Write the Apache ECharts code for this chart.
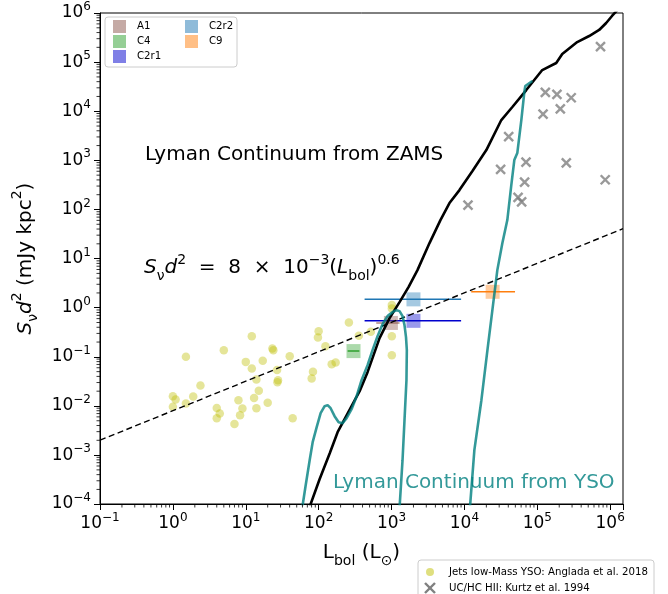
<!DOCTYPE html>
<html>
<head>
<meta charset="utf-8">
<script src="https://cdn.jsdelivr.net/npm/echarts@6.0.0/dist/echarts.min.js"></script>
<style>
  html, body { margin: 0; padding: 0; background: #fff; }
  #chart { width: 668px; height: 594px; }
</style>
</head>
<body>
<div id="chart"></div>
<script>
// ---- axis ranges (log-log) ----
const X_MIN = 0.1, X_MAX = 1.5e6;
const Y_MIN = 1.01e-4, Y_MAX = 1e6;
const xTickExps = [-1, 0, 1, 2, 3, 4, 5, 6];
const yTickExps = [-4, -3, -2, -1, 0, 1, 2, 3, 4, 5, 6];

// ---- jets from low-mass YSOs (Anglada et al. 2018) ----
const angladaL = [1.51, 5.0, 12.1, 10.0, 12.1, 17.1, 23.2, 23.9, 40.1, 26.9, 14.0, 27.7, 27.2, 15.1, 13.0,
  7.94, 20.0, 9.0, 14.0, 8.35, 7.0, 4.0, 4.4, 4.0, 44.0, 2.39, 1.90, 1.51, 1.0, 1.09, 1.0,
  100, 97.8, 124, 260, 356, 520, 83.6, 80.2, 151, 171, 1010, 1010, 1010, 1010];
const angladaS = [0.100, 0.137, 0.264, 0.079, 0.058, 0.083, 0.148, 0.137, 0.103, 0.054, 0.0347, 0.0335, 0.0305, 0.0203, 0.0146,
  0.0131, 0.0116, 0.0089, 0.0090, 0.0065, 0.0043, 0.0091, 0.0070, 0.0056, 0.0056, 0.0261, 0.0156, 0.0112, 0.0158, 0.0136, 0.0096,
  0.333, 0.248, 0.165, 0.502, 0.268, 0.323, 0.0495, 0.0363, 0.071, 0.077, 1.13, 0.97, 0.264, 0.108];

// ---- UC/HC HII regions (Kurtz et al. 1994) ----
const kurtzL = [7.37e5, 1.29e5, 1.86e5, 2.92e5, 1.20e5, 2.07e5, 4.05e4, 7.0e4, 3.14e4, 2.5e5, 6.7e4, 8.55e5, 5.45e4, 6.1e4, 1.12e4];
const kurtzS = [2.06e5, 2.43e4, 2.21e4, 1.88e4, 8.77e3, 1.12e4, 3.03e3, 923, 656, 893, 361, 403, 176, 143, 123];

// ---- sources of this work: luminosity range and radio luminosity ----
const sourceNames = ['A1', 'C4', 'C2r1', 'C2r2', 'C9'];
const sourceL    = [980, 301, 2000, 2000, 2.44e4];
const sourceS    = [0.49, 0.131, 0.541, 1.48, 2.11];
const sourceLmin = [617, 250, 427, 427, 1.24e4];
const sourceLmax = [1288, 362, 9010, 9010, 4.95e4];

// ---- Lyman continuum from ZAMS stars ----
const zamsL = [68.5, 103, 142, 182, 227, 283, 365, 469, 685, 940, 1288, 1710, 2270, 3320, 4690, 6240, 8550,
  1.29e4, 2.0e4, 3.21e4, 4.55e4, 7.06e4, 1.17e5, 1.82e5, 2.20e5, 3.53e5, 5.15e5, 7.06e5, 8.81e5, 1.06e6, 1.33e6];
const zamsS = [6e-5, 3.23e-4, 1.09e-3, 2.92e-3, 5.38e-3, 9.9e-3, 0.020, 0.0488, 0.240, 0.614, 1.30, 2.63, 5.83, 20.7, 60.8, 135, 248,
  605, 1620, 6620, 1.22e4, 2.70e4, 6.9e4, 9.6e4, 1.46e5, 2.56e5, 3.40e5, 4.51e5, 6.25e5, 8.69e5, 1.26e6];

// ---- Lyman continuum from accreting YSOs (two branches) ----
const ysoAL = [57.5, 66.4, 75.3, 82.8, 94.0, 106.5, 120.8, 132.8, 146, 165.5, 188, 213, 242, 283, 332, 388,
  469, 549, 643, 753, 881, 1033, 1170, 1288, 1416, 1507, 1580, 1622, 1603, 1507, 1416, 1270];
const ysoAS = [6e-5, 2.44e-4, 7.87e-4, 1.83e-3, 3.70e-3, 7.13e-3, 9.9e-3, 0.0104, 9.0e-3, 6.2e-3, 4.68e-3, 4.47e-3, 5.65e-3, 8.6e-3, 0.0158, 0.0335,
  0.0678, 0.137, 0.264, 0.463, 0.675, 0.813, 0.893, 0.853, 0.675, 0.442, 0.252, 0.137, 0.0335, 5.14e-3, 7.87e-4, 6e-5];
const ysoBL = [1.17e4, 1.37e4, 1.71e4, 2.07e4, 2.42e4, 2.83e4, 3.32e4, 3.88e4, 4.40e4, 4.84e4, 5.32e4, 6.04e4, 6.64e4, 6.85e4, 8.55e4];
const ysoBS = [6e-5, 1.26e-3, 0.0131, 0.137, 0.893, 5.83, 20.7, 60.8, 314, 1014, 1409, 6620, 2.46e4, 3.26e4, 4.12e4];

// ---- empirical jet relation  S d^2 = 8e-3 L^0.6 ----
const JET_COEF = 8e-3, JET_INDEX = 0.6;
const jetL = [X_MIN, X_MAX];

// ---- styling ----
const FONT = '"DejaVu Sans", sans-serif';
const TEAL = 'rgba(0,128,128,0.8)';
const sourceBase = ['140,86,75', '44,160,44', '0,0,205', '31,119,180', '255,127,14'];
const sourceLineColors = ['rgba(140,86,75,0.7)', '#2ca02c', '#0000cd', '#1f77b4', '#ff7f0e'];

const zip = (a, b) => a.map((v, i) => [v, b[i]]);

function powerLabel(exps) {
  return function (v) {
    const lg = Math.log10(v);
    const e = Math.round(lg);
    if (Math.abs(lg - e) > 0.01 || exps.indexOf(e) < 0) return '';
    const s = e < 0 ? '\u2212' + (-e) : String(e);
    return '{b|10}{s|' + s + '}';
  };
}
const tickRich = {
  b: { fontFamily: FONT, fontSize: 17, lineHeight: 24, color: '#000' },
  s: { fontFamily: FONT, fontSize: 12, lineHeight: 14, verticalAlign: 'top', color: '#000' }
};
const mathRich = {
  n:   { fontFamily: FONT, fontSize: 20, lineHeight: 30, color: '#000' },
  it:  { fontFamily: FONT, fontSize: 20, lineHeight: 30, fontStyle: 'italic', color: '#000' },
  sub: { fontFamily: FONT, fontSize: 14, lineHeight: 16, verticalAlign: 'bottom', color: '#000' },
  sup: { fontFamily: FONT, fontSize: 14, lineHeight: 18, verticalAlign: 'top', color: '#000' }
};

// minor log ticks at 2..9 x 10^k, drawn outward from the axis lines
const xMinor = [], yMinor = [];
for (let k = -1; k <= 5; k++) for (let m = 2; m <= 9; m++) xMinor.push(m * Math.pow(10, k));
for (let k = -4; k <= 5; k++) for (let m = 2; m <= 9; m++) yMinor.push(m * Math.pow(10, k));
function minorTicks(values, dir) {
  return {
    type: 'custom', silent: true, clip: false, z: 6,
    data: values.map(v => dir === 'x' ? [v, Y_MIN] : [X_MIN, v]),
    renderItem: function (params, api) {
      const p = api.coord([api.value(0), api.value(1)]);
      const len = 3.5;
      return {
        type: 'line',
        shape: dir === 'x' ? { x1: p[0], y1: p[1], x2: p[0], y2: p[1] + len }
                           : { x1: p[0] - len, y1: p[1], x2: p[0], y2: p[1] },
        style: { stroke: '#000', lineWidth: 0.8 }
      };
    }
  };
}

const series = [];
series.push({
  type: 'scatter', name: 'Jets low-Mass YSO: Anglada et al. 2018',
  data: zip(angladaL, angladaS), symbol: 'circle', symbolSize: 8.5,
  itemStyle: { color: 'rgba(191,191,0,0.5)' }, z: 2
});
series.push({
  type: 'scatter', name: 'UC/HC HII: Kurtz et al. 1994',
  data: zip(kurtzL, kurtzS), symbol: 'path://M0,0L10,10M10,0L0,10', symbolSize: 9,
  itemStyle: { color: 'rgba(0,0,0,0)', borderColor: '#808080', borderWidth: 2.4 }, z: 2
});
sourceNames.forEach((nm, i) => {
  series.push({
    type: 'line', name: nm + ' range', data: [[sourceLmin[i], sourceS[i]], [sourceLmax[i], sourceS[i]]],
    showSymbol: false, lineStyle: { color: sourceLineColors[i], width: 1.5 }, z: 3
  });
  series.push({
    type: 'scatter', name: nm, data: [[sourceL[i], sourceS[i]]], symbol: 'rect', symbolSize: 14,
    itemStyle: { color: 'rgba(' + sourceBase[i] + ',0.5)' }, z: 3
  });
});
series.push({
  type: 'line', name: 'jet relation', data: jetL.map(L => [L, JET_COEF * Math.pow(L, JET_INDEX)]),
  showSymbol: false, lineStyle: { color: '#000', width: 1.4, type: [6, 3.5] }, z: 4
});
series.push({
  type: 'line', name: 'ZAMS', data: zip(zamsL, zamsS), showSymbol: false,
  lineStyle: { color: '#000', width: 2.6 }, z: 5
});
series.push({
  type: 'line', name: 'YSO a', data: zip(ysoAL, ysoAS), showSymbol: false,
  lineStyle: { color: TEAL, width: 2.6 }, z: 5
});
series.push({
  type: 'line', name: 'YSO b', data: zip(ysoBL, ysoBS), showSymbol: false,
  lineStyle: { color: TEAL, width: 2.6 }, z: 5
});
series.push(minorTicks(xMinor, 'x'));
series.push(minorTicks(yMinor, 'y'));

// legend of this work's sources (two columns)
const LEGEND_FONT = '10.2px ' + FONT;
const legendCells = [[113, 26.5], [113, 41.5], [113, 56.5], [185, 26.5], [185, 41.5]];
const graphics = [{
  type: 'rect', z: 20, shape: { x: 105, y: 17, width: 132, height: 50, r: 3 },
  style: { fill: 'rgba(255,255,255,0.8)', stroke: '#cccccc', lineWidth: 1 }
}];
sourceNames.forEach((nm, i) => {
  const c = legendCells[i];
  graphics.push({ type: 'rect', z: 21, shape: { x: c[0], y: c[1] - 6.5, width: 13, height: 13 },
    style: { fill: 'rgba(' + sourceBase[i] + ',0.5)' } });
  graphics.push({ type: 'text', z: 21, x: c[0] + 24, y: c[1],
    style: { text: nm, font: LEGEND_FONT, fill: '#000', verticalAlign: 'middle' } });
});
// legend of the literature samples
graphics.push({ type: 'rect', z: 20, shape: { x: 418, y: 560, width: 236, height: 40, r: 3 },
  style: { fill: 'rgba(255,255,255,0.8)', stroke: '#cccccc', lineWidth: 1 } });
graphics.push({ type: 'circle', z: 21, shape: { cx: 430, cy: 572, r: 4 }, style: { fill: 'rgba(191,191,0,0.5)' } });
graphics.push({ type: 'polyline', z: 21, shape: { points: [[425, 583], [435, 593]] }, style: { stroke: '#808080', lineWidth: 2.4 } });
graphics.push({ type: 'polyline', z: 21, shape: { points: [[435, 583], [425, 593]] }, style: { stroke: '#808080', lineWidth: 2.4 } });
graphics.push({ type: 'text', z: 21, x: 449, y: 572,
  style: { text: 'Jets low-Mass YSO: Anglada et al. 2018', font: LEGEND_FONT, fill: '#000', verticalAlign: 'middle' } });
graphics.push({ type: 'text', z: 21, x: 449, y: 588,
  style: { text: 'UC/HC HII: Kurtz et al. 1994', font: LEGEND_FONT, fill: '#000', verticalAlign: 'middle' } });
// annotations
graphics.push({ type: 'text', z: 21, x: 145, y: 155,
  style: { text: 'Lyman Continuum from ZAMS', font: '20px ' + FONT, fill: '#000', verticalAlign: 'middle' } });
graphics.push({ type: 'text', z: 21, x: 333, y: 483,
  style: { text: 'Lyman Continuum from YSO', font: '20px ' + FONT, fill: TEAL, verticalAlign: 'middle' } });
graphics.push({ type: 'text', z: 21, x: 144, y: 268,
  style: {
    text: '{it|S}{sub|\u03bd}{it|d}{sup|2}{n|  =  8  \u00d7  10}{sup|\u22123}{n|(}{it|L}{sub|bol}{n|)}{sup|0.6}',
    rich: mathRich, font: '20px ' + FONT, verticalAlign: 'middle'
  } });

const chart = echarts.init(document.getElementById('chart'), null, { renderer: 'canvas' });
chart.setOption({
  animation: false,
  backgroundColor: '#fff',
  textStyle: { fontFamily: FONT },
  grid: { left: 100, right: 45, top: 13, bottom: 90, containLabel: false, outerBoundsMode: 'none',
    show: true, borderColor: '#000', borderWidth: 1, backgroundColor: 'transparent' },
  xAxis: {
    type: 'log', logBase: 10, min: X_MIN, max: X_MAX, splitNumber: 7,
    axisLine: { show: true, onZero: false, lineStyle: { color: '#000', width: 1 } },
    axisTick: { show: true, inside: false, length: 6, lineStyle: { color: '#000', width: 1 } },
    minorTick: { show: false }, splitLine: { show: false }, minorSplitLine: { show: false },
    axisLabel: { formatter: powerLabel(xTickExps), rich: tickRich, margin: 8, hideOverlap: false },
    name: '{n|L}{sub|bol}{n| (L}{sub|\u2299}{n|)}', nameLocation: 'middle', nameGap: 34,
    nameTextStyle: { rich: mathRich, fontSize: 20, color: '#000' }
  },
  yAxis: {
    type: 'log', logBase: 10, min: Y_MIN, max: Y_MAX, splitNumber: 10,
    axisLine: { show: true, onZero: false, lineStyle: { color: '#000', width: 1 } },
    axisTick: { show: true, inside: false, length: 6, lineStyle: { color: '#000', width: 1 } },
    minorTick: { show: false }, splitLine: { show: false }, minorSplitLine: { show: false },
    axisLabel: { formatter: powerLabel(yTickExps), rich: tickRich, margin: 9, hideOverlap: false },
    name: '{it|S}{sub|\u03bd}{it|d}{sup|2}{n| (mJy kpc}{sup|2}{n|)}', nameLocation: 'middle', nameGap: 56,
    nameTextStyle: { rich: mathRich, fontSize: 20, color: '#000' }
  },
  series: series,
  graphic: graphics
});
</script>
</body>
</html>
